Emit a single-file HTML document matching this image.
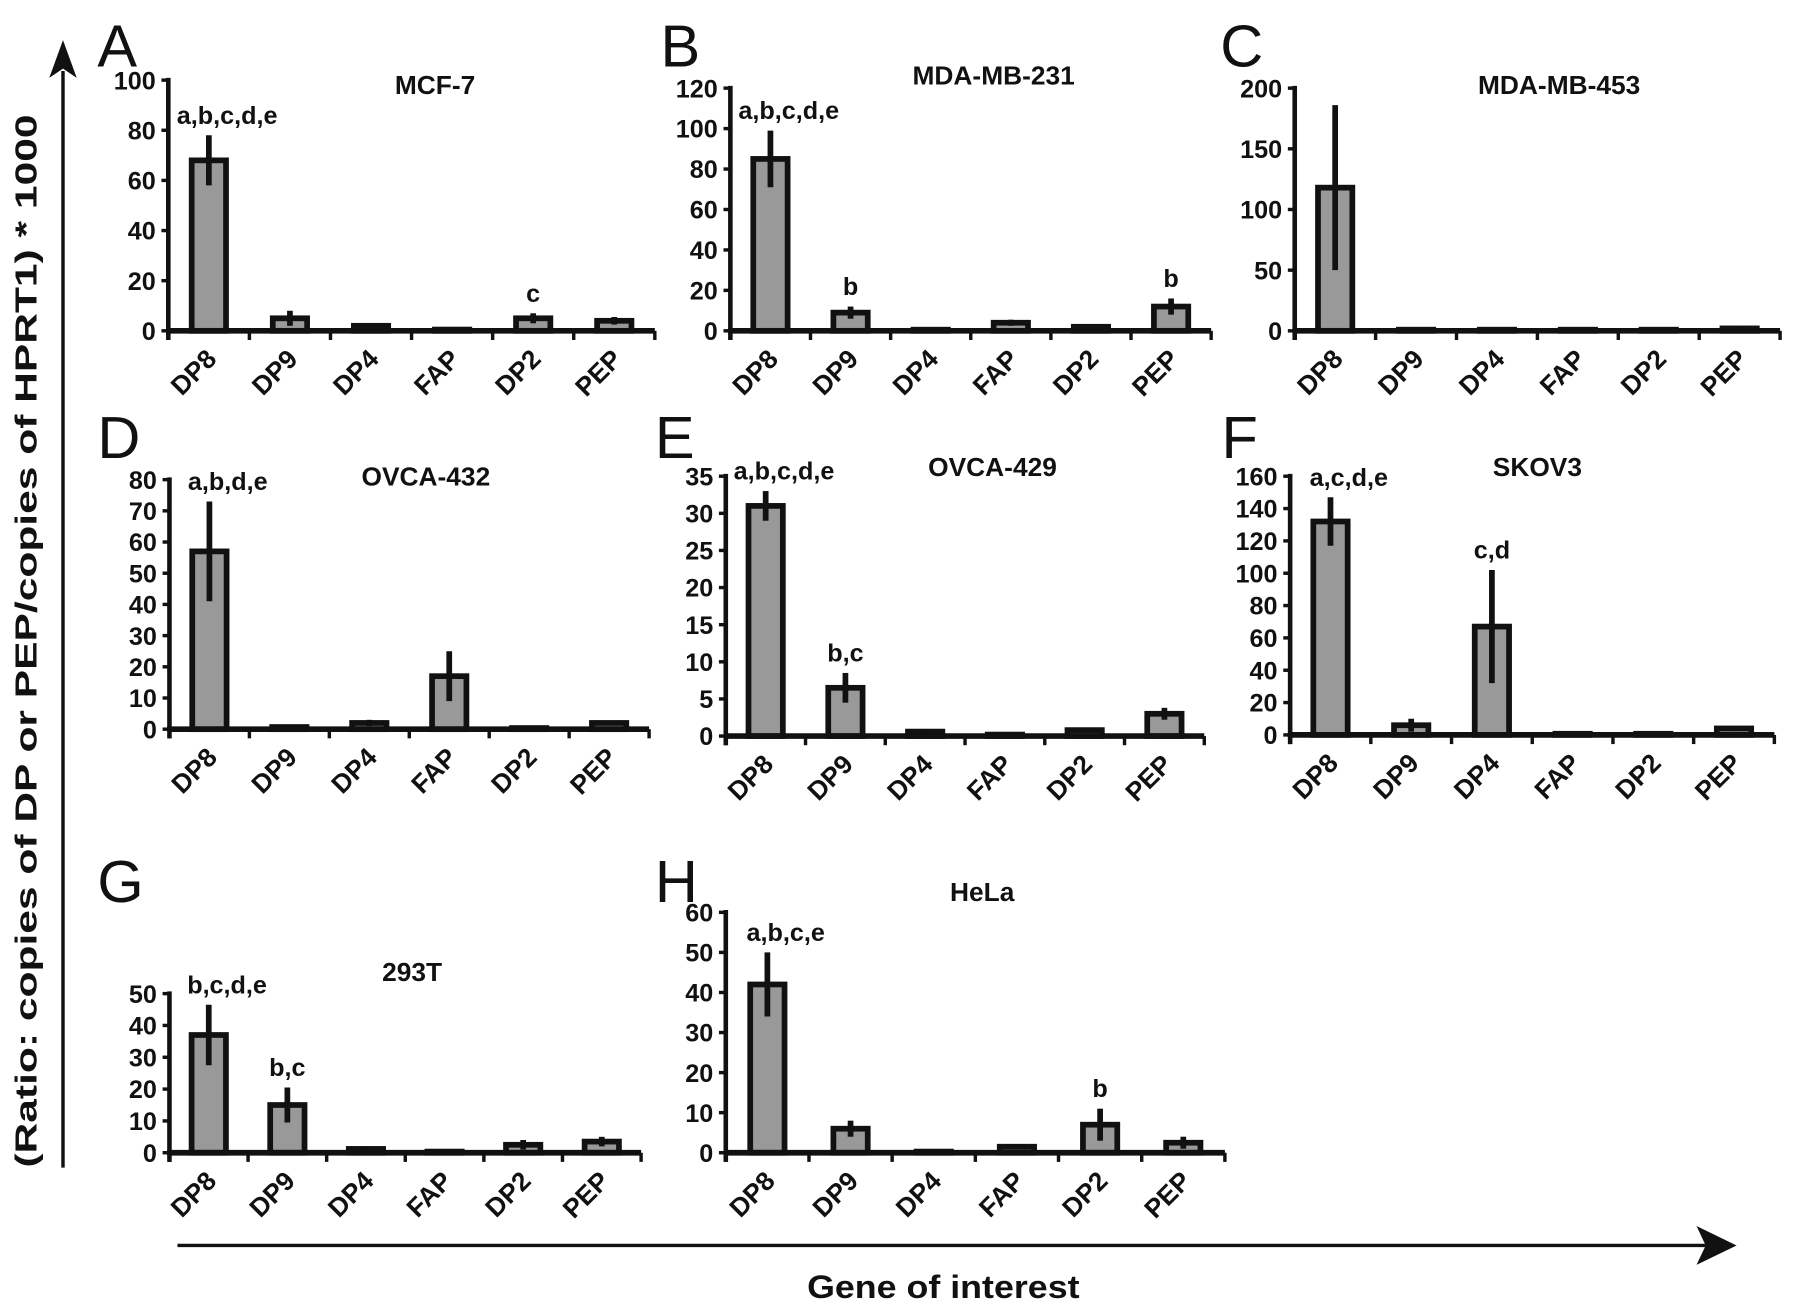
<!DOCTYPE html>
<html><head><meta charset="utf-8"><style>
html,body{margin:0;padding:0;background:#fff}
svg{display:block}
text{font-family:"Liberation Sans",Arial,sans-serif;font-weight:bold;fill:#111}
</style></head><body>
<svg id="fig" width="1795" height="1313" viewBox="0 0 1568 1147" xmlns="http://www.w3.org/2000/svg">
<g id="decor">
  <line x1="55" y1="62" x2="55" y2="1020" stroke="#111" stroke-width="3"/>
  <polygon points="55,35 43,68 55,60 67,68" fill="#111"/>
  <text x="32" y="560" font-size="27" text-anchor="middle" textLength="920" lengthAdjust="spacingAndGlyphs" transform="rotate(-90 32 560)">(Ratio: copies of DP or PEP/copies of HPRT1) * 1000</text>
  <line x1="155" y1="1088" x2="1490" y2="1088" stroke="#111" stroke-width="3"/>
  <polygon points="1517,1088 1482,1071 1490,1088 1482,1105" fill="#111"/>
  <text x="824" y="1134" font-size="28" text-anchor="middle" textLength="238" lengthAdjust="spacingAndGlyphs">Gene of interest</text>
</g>
</svg>
<script>
const categories = ["DP8","DP9","DP4","FAP","DP2","PEP"];
const valsA = [68,5,2,0.5,5,4];   const errA = [10,3,1,0,2,1.5];
const valsB = [85,9,0.5,4,2,12];  const errB = [14,3,0,1.5,1,4];
const valsC = [118,0.5,0.3,0.5,0.3,2]; const errC = [68,0,0,0,0,1];
const valsD = [57,0.7,2,17,0.3,2]; const errD = [16,0.3,1,8,0,0.8];
const valsE = [31,6.5,0.6,0.2,0.8,3]; const errE = [2,2,0.3,0,0.3,0.8];
const valsF = [132,6,67,0.5,0.3,4]; const errF = [15,4,35,0,0,1.5];
const valsG = [37,15,1.2,0.2,2.5,3.5]; const errG = [9.5,5.5,0.8,0,1.5,1.5];
const valsH = [42,6,0.2,1.5,7,2.5]; const errH = [8,2,0,0.5,4,1.5];
const ticksA = [0,20,40,60,80,100];
const ticksB = [0,20,40,60,80,100,120];
const ticksC = [0,50,100,150,200];
const ticksD = [0,10,20,30,40,50,60,70,80];
const ticksE = [0,5,10,15,20,25,30,35];
const ticksF = [0,20,40,60,80,100,120,140,160];
const ticksG = [0,10,20,30,40,50];
const ticksH = [0,10,20,30,40,50,60];
const sigA = ["a,b,c,d,e","","","","c",""];
const sigB = ["a,b,c,d,e","b","","","","b"];
const sigC = ["","","","","",""];
const sigD = ["a,b,d,e","","","","",""];
const sigE = ["a,b,c,d,e","b,c","","","",""];
const sigF = ["a,c,d,e","","c,d","","",""];
const sigG = ["b,c,d,e","b,c","","","",""];
const sigH = ["a,b,c,e","","","","b",""];

const NS="http://www.w3.org/2000/svg";
const svg=document.getElementById('fig');
function mk(tag,attrs,parent){const e=document.createElementNS(NS,tag);for(const k in attrs)e.setAttribute(k,attrs[k]);(parent||svg).appendChild(e);return e;}

const panels=[
 {id:'a',letter:'A',title:'MCF-7',x0:147,x1:572,yTop:70,yZero:289,vals:valsA,err:errA,ticks:ticksA,sig:sigA,lx:85,ly:58,tx:380,ty:82},
 {id:'b',letter:'B',title:'MDA-MB-231',x0:638,x1:1058,yTop:77,yZero:289,vals:valsB,err:errB,ticks:ticksB,sig:sigB,lx:577,ly:58,tx:868,ty:74},
 {id:'c',letter:'C',title:'MDA-MB-453',x0:1131,x1:1555,yTop:77,yZero:289,vals:valsC,err:errC,ticks:ticksC,sig:sigC,lx:1066,ly:58,tx:1362,ty:82},
 {id:'d',letter:'D',title:'OVCA-432',x0:148,x1:567,yTop:419,yZero:637,vals:valsD,err:errD,ticks:ticksD,sig:sigD,lx:85,ly:400,tx:372,ty:424},
 {id:'e',letter:'E',title:'OVCA-429',x0:634,x1:1052,yTop:416,yZero:643,vals:valsE,err:errE,ticks:ticksE,sig:sigE,lx:572,ly:400,tx:867,ty:416},
 {id:'f',letter:'F',title:'SKOV3',x0:1127,x1:1550,yTop:416,yZero:642,vals:valsF,err:errF,ticks:ticksF,sig:sigF,lx:1067,ly:400,tx:1343,ty:416},
 {id:'g',letter:'G',title:'293T',x0:148,x1:560,yTop:868,yZero:1007,vals:valsG,err:errG,ticks:ticksG,sig:sigG,lx:85,ly:788,tx:360,ty:857},
 {id:'h',letter:'H',title:'HeLa',x0:634,x1:1070,yTop:797,yZero:1007,vals:valsH,err:errH,ticks:ticksH,sig:sigH,lx:572,ly:788,tx:858,ty:787}
];

panels.forEach(p=>{
  const g=mk('g',{});
  
  
  const maxT=p.ticks[p.ticks.length-1];
  const y=v=>p.yZero-(v/maxT)*(p.yZero-p.yTop);
  const step=(p.x1-p.x0)/categories.length;
  const xc=i=>p.x0+step*(i+0.5);
  const L=mk('text',{x:p.lx,y:p.ly,'font-size':52,'text-anchor':'start'},g);
  L.style.fontWeight='normal';L.textContent=p.letter;
  
  
  const T=mk('text',{x:p.tx,y:p.ty,'font-size':23,'text-anchor':'middle'},g);
  T.textContent=p.title;
  
  
  const ya=mk('line',{x1:p.x0,y1:p.yTop-2,x2:p.x0,y2:p.yZero+8,stroke:'#111','stroke-width':4},g);
  
  
  p.ticks.forEach(t=>{
    mk('line',{x1:p.x0-6,y1:y(t),x2:p.x0,y2:y(t),stroke:'#111','stroke-width':3},g);
    const tl=mk('text',{x:p.x0-11,y:y(t)+8,'font-size':22,'text-anchor':'end'},g);
    tl.textContent=t;
    
    
  });
  categories.forEach((c,i)=>{
    const v=p.vals[i],e=p.err[i],cx=xc(i);
    const bh=Math.max(p.yZero-y(v),1);
    const r=mk('rect',{x:cx-15,y:p.yZero-bh,width:30,height:bh,fill:'#999',stroke:'#111','stroke-width':5},g);
    
    
    if(e>0){
      const eb=mk('line',{x1:cx,y1:y(v+e),x2:cx,y2:y(Math.max(v-e,0)),stroke:'#111','stroke-width':5},g);
      
      
    }
    if(p.sig[i]){
      const s=mk('text',{x:cx+(p.sig[i].length>3?16:0),y:y(v+e)-10,'font-size':22,'text-anchor':'middle'},g);
      s.textContent=p.sig[i];
      
      
    }
    const cl=mk('text',{x:cx+8,y:p.yZero+26,'font-size':23,'text-anchor':'end',transform:`rotate(-45 ${cx+8} ${p.yZero+26})`},g);
    cl.textContent=c;
    
    
  });
  const xa=mk('line',{x1:p.x0-2,y1:p.yZero,x2:p.x1,y2:p.yZero,stroke:'#111','stroke-width':5},g);
  
  
  for(let i=0;i<=categories.length;i++){
    mk('line',{x1:p.x0+step*i,y1:p.yZero,x2:p.x0+step*i,y2:p.yZero+8,stroke:'#111','stroke-width':3},g);
  }
});
</script>
</body></html>
